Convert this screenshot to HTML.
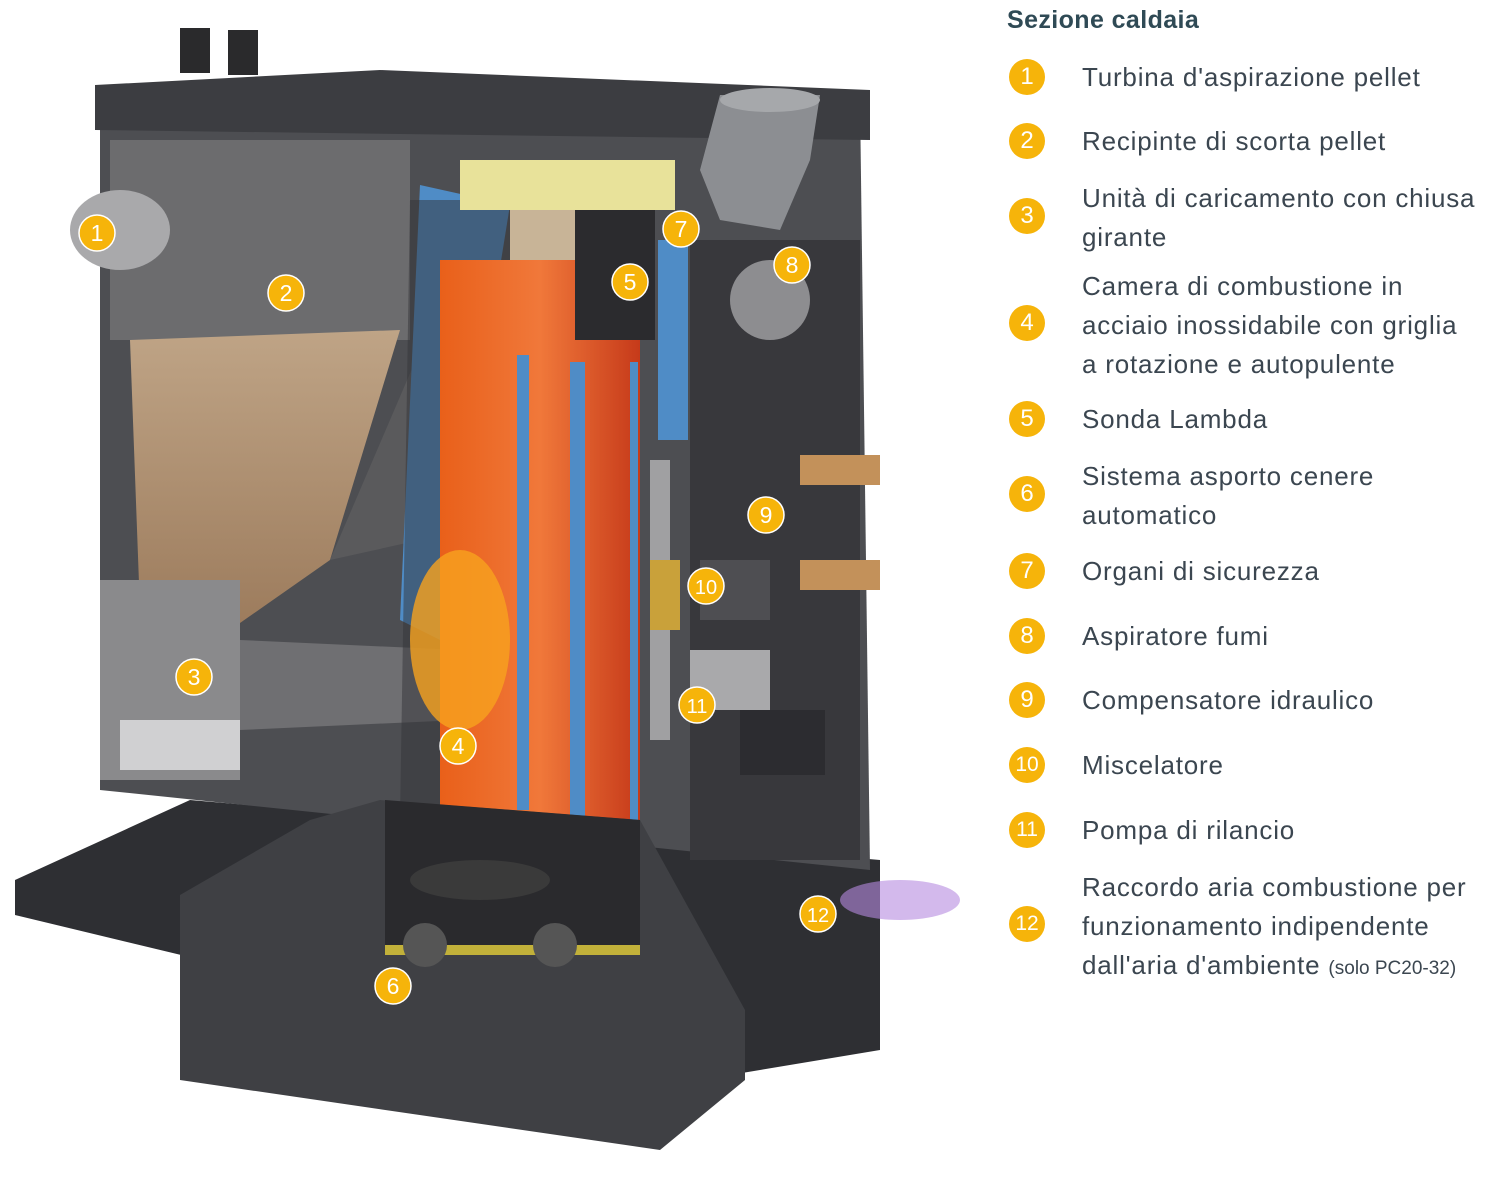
<!DOCTYPE html>
<html><head><meta charset="utf-8"><style>
body{margin:0;width:1500px;height:1187px;background:#fff;overflow:hidden;position:relative;font-family:"Liberation Sans",sans-serif}
svg{position:absolute;left:0;top:0}
.t{position:absolute;left:1082px;font-size:26px;color:#3b4650;line-height:39px;letter-spacing:0.8px;white-space:nowrap}
.c{position:absolute;left:1009px;width:36px;height:36px;border-radius:50%;background:#f6b40a;color:#fff;font-size:24px;text-align:center;line-height:36px}
h1{position:absolute;left:1007px;top:6px;margin:0;font-size:25px;color:#2f4a55;font-weight:bold;letter-spacing:0.4px}
</style></head><body>
<svg width="1500" height="1187">
<defs>
<linearGradient id="fl" x1="0" x2="1"><stop offset="0" stop-color="#e9601a"/><stop offset=".5" stop-color="#f0783a"/><stop offset="1" stop-color="#c63a1a"/></linearGradient>
<linearGradient id="pe" x1="0" y1="0" x2="0" y2="1"><stop offset="0" stop-color="#bfa486"/><stop offset="1" stop-color="#9c7b5c"/></linearGradient>
</defs>
<polygon points="15,880 190,800 880,860 880,1050 700,1080 15,915" fill="#2e2f33"/>
<polygon points="100,88 860,100 870,870 100,790" fill="#4d4e52"/>
<polygon points="95,85 380,70 870,90 870,140 95,130" fill="#3c3d41"/>
<rect x="180" y="28" width="30" height="45" fill="#2a2a2c"/><rect x="228" y="30" width="30" height="45" fill="#2a2a2c"/>
<rect x="110" y="140" width="300" height="200" fill="#6c6c6e"/>
<polygon points="130,340 400,330 330,560 230,630 140,610" fill="url(#pe)"/>
<polygon points="330,560 420,350 420,540" fill="#5a5a5c"/>
<ellipse cx="120" cy="230" rx="50" ry="40" fill="#a9a9ab"/>
<rect x="100" y="580" width="140" height="200" fill="#8a8a8c"/>
<polygon points="240,640 460,650 460,720 240,730" fill="#6f6f72"/>
<rect x="120" y="720" width="120" height="50" fill="#d0d0d2"/>
<polygon points="420,185 510,205 440,640 400,620" fill="#4f8cc6"/>
<polygon points="410,200 520,200 520,820 400,820" fill="#343438" opacity=".5"/>
<rect x="460" y="160" width="215" height="50" fill="#e8e29a"/>
<rect x="510" y="210" width="100" height="50" fill="#c8b497"/>
<polygon points="440,260 640,260 640,830 500,900 440,830" fill="url(#fl)"/>
<ellipse cx="460" cy="640" rx="50" ry="90" fill="#f7a21e" opacity=".8"/>
<rect x="517" y="355" width="12" height="455" fill="#4f8cc6"/>
<rect x="570" y="362" width="15" height="455" fill="#4f8cc6"/>
<rect x="630" y="362" width="8" height="460" fill="#4f8cc6"/>
<rect x="575" y="210" width="80" height="130" fill="#2b2b2e"/>
<rect x="658" y="240" width="30" height="200" fill="#4f8cc6"/>
<rect x="690" y="240" width="170" height="620" fill="#38383c"/>
<polygon points="720,95 820,95 810,160 780,230 720,220 700,170" fill="#8c8e92"/>
<ellipse cx="770" cy="100" rx="50" ry="12" fill="#a6a8ab"/>
<ellipse cx="770" cy="300" rx="40" ry="40" fill="#8d8d90"/>
<rect x="650" y="460" width="20" height="280" fill="#a0a0a2"/>
<rect x="650" y="560" width="30" height="70" fill="#c9a13a"/>
<rect x="700" y="560" width="70" height="60" fill="#4e4e52"/>
<rect x="690" y="650" width="80" height="60" fill="#a9a9ab"/>
<rect x="800" y="455" width="80" height="30" fill="#c3915a"/>
<rect x="800" y="560" width="80" height="30" fill="#c3915a"/>
<rect x="740" y="710" width="85" height="65" fill="#2c2c30"/>
<polygon points="180,895 310,820 380,800 640,820 745,1010 745,1080 660,1150 180,1080" fill="#3f4044"/>
<polygon points="385,800 640,820 640,950 385,950" fill="#2a2a2d"/>
<rect x="385" y="945" width="255" height="10" fill="#c2b13a"/>
<ellipse cx="480" cy="880" rx="70" ry="20" fill="#3a3a3a"/>
<ellipse cx="425" cy="945" rx="22" ry="22" fill="#555"/><ellipse cx="555" cy="945" rx="22" ry="22" fill="#555"/>
<ellipse cx="900" cy="900" rx="60" ry="20" fill="#b68ae0" opacity=".6"/>
<g fill="#f6b40a" stroke="#fff" stroke-width="1.5">
<circle cx="97" cy="233" r="18"/><circle cx="286" cy="293" r="18"/><circle cx="194" cy="677" r="18"/><circle cx="458" cy="746" r="18"/><circle cx="630" cy="282" r="18"/><circle cx="393" cy="986" r="18"/><circle cx="681" cy="229" r="18"/><circle cx="792" cy="265" r="18"/><circle cx="766" cy="515" r="18"/><circle cx="706" cy="586" r="18"/><circle cx="697" cy="705" r="18"/><circle cx="818" cy="914" r="18"/>
</g>
<g fill="#fff" font-family="Liberation Sans,sans-serif" font-size="23" text-anchor="middle">
<text x="97" y="241">1</text><text x="286" y="301">2</text><text x="194" y="685">3</text><text x="458" y="754">4</text><text x="630" y="290">5</text><text x="393" y="994">6</text><text x="681" y="237">7</text><text x="792" y="273">8</text><text x="766" y="523">9</text><text x="706" y="594" font-size="20">10</text><text x="697" y="713" font-size="20">11</text><text x="818" y="922" font-size="20">12</text>
</g>
</svg>
<h1>Sezione caldaia</h1>
<div class="c" style="top:59px">1</div><div class="t" style="top:58px">Turbina d'aspirazione pellet</div>
<div class="c" style="top:123px">2</div><div class="t" style="top:122px">Recipinte di scorta pellet</div>
<div class="c" style="top:198px">3</div><div class="t" style="top:179px">Unità di caricamento con chiusa<br>girante</div>
<div class="c" style="top:305px">4</div><div class="t" style="top:267px">Camera di combustione in<br>acciaio inossidabile con griglia<br>a rotazione e autopulente</div>
<div class="c" style="top:401px">5</div><div class="t" style="top:400px">Sonda Lambda</div>
<div class="c" style="top:476px">6</div><div class="t" style="top:457px">Sistema asporto cenere<br>automatico</div>
<div class="c" style="top:553px">7</div><div class="t" style="top:552px">Organi di sicurezza</div>
<div class="c" style="top:618px">8</div><div class="t" style="top:617px">Aspiratore fumi</div>
<div class="c" style="top:682px">9</div><div class="t" style="top:681px">Compensatore idraulico</div>
<div class="c" style="top:747px;font-size:21px">10</div><div class="t" style="top:746px">Miscelatore</div>
<div class="c" style="top:812px;font-size:21px">11</div><div class="t" style="top:811px">Pompa di rilancio</div>
<div class="c" style="top:906px;font-size:21px">12</div><div class="t" style="top:868px">Raccordo aria combustione per<br>funzionamento indipendente<br>dall'aria d'ambiente <span style="font-size:19px;letter-spacing:0">(solo PC20-32)</span></div>
</body></html>
